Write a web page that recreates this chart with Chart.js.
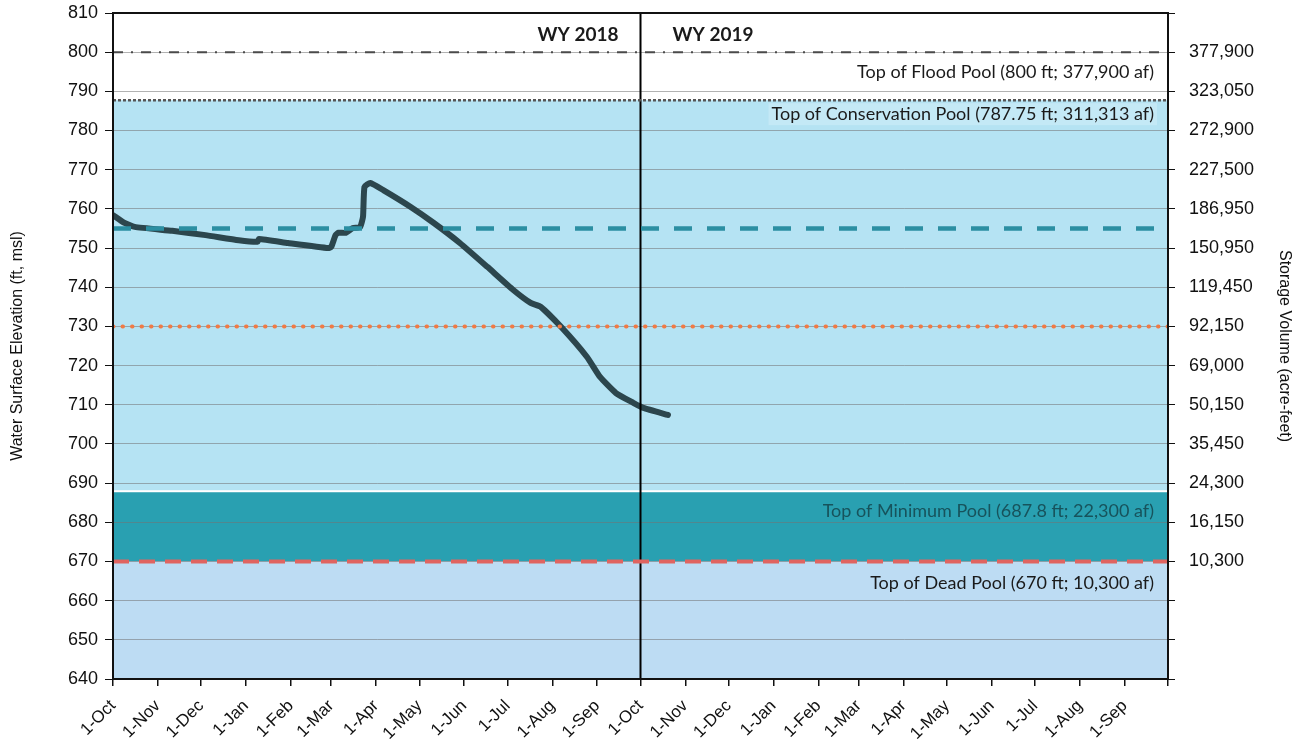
<!DOCTYPE html>
<html>
<head>
<meta charset="utf-8">
<script src="https://cdn.jsdelivr.net/npm/chart.js@4/dist/chart.umd.min.js"></script>
<style>
  html, body { margin: 0; padding: 0; background: #ffffff; }
  #wrap { width: 1302px; height: 746px; }
</style>
</head>
<body>
<div id="wrap"><canvas id="c" width="1302" height="746"></canvas></div>
<script>
// ---------- DATA ----------
const startDate = '2017-10-01';
const endDate = '2019-09-30';
const monthTickDates = ['2017-10-01','2017-11-01','2017-12-01','2018-01-01','2018-02-01','2018-03-01','2018-04-01','2018-05-01','2018-06-01','2018-07-01','2018-08-01','2018-09-01',
  '2018-10-01','2018-11-01','2018-12-01','2019-01-01','2019-02-01','2019-03-01','2019-04-01','2019-05-01','2019-06-01','2019-07-01','2019-08-01','2019-09-01','2019-10-01'];
const monthTickLabels = ['1-Oct','1-Nov','1-Dec','1-Jan','1-Feb','1-Mar','1-Apr','1-May','1-Jun','1-Jul','1-Aug','1-Sep',
  '1-Oct','1-Nov','1-Dec','1-Jan','1-Feb','1-Mar','1-Apr','1-May','1-Jun','1-Jul','1-Aug','1-Sep',''];

const elevDates = ['2017-10-01','2017-10-09','2017-10-16','2017-11-11','2017-12-04','2017-12-27','2018-01-09','2018-01-10','2018-01-30','2018-02-27',
  '2018-03-01','2018-03-04','2018-03-06','2018-03-11','2018-03-16','2018-03-21','2018-03-23','2018-03-24','2018-03-28','2018-04-06',
  '2018-04-25','2018-05-11','2018-05-29','2018-06-17','2018-07-05','2018-07-17','2018-07-24','2018-08-07','2018-08-25','2018-09-03',
  '2018-09-14','2018-09-26','2018-10-03','2018-10-20'];
const elevValues = [758.4,756.4,755.4,754.4,753.3,752.0,751.6,752.3,751.3,750.0,
  750.3,753.3,753.9,753.9,755.1,755.4,758.0,765.6,766.6,764.8,
  760.5,756.4,751.3,745.2,739.3,736.0,735.0,729.9,722.2,717.1,
  713.0,710.5,709.2,707.4];

const elevTickMin = 640, elevTickMax = 810, elevTickStep = 10;
const storageTickElev = [800,790,780,770,760,750,740,730,720,710,700,690,680,670];
const storageTickLabels = ['377,900','323,050','272,900','227,500','186,950','150,950','119,450','92,150','69,000','50,150','35,450','24,300','16,150','10,300'];

const floodPool = 800, conservationPool = 787.75, minimumPool = 687.8, deadPool = 670;
const guideA = 755, guideB = 730;
const waterYearSplit = '2018-10-01';
const poolLabels = ['Top of Flood Pool (800 ft; 377,900 af)','Top of Conservation Pool (787.75 ft; 311,313 af)','Top of Minimum Pool (687.8 ft; 22,300 af)','Top of Dead Pool (670 ft; 10,300 af)'];
const wyLabels = ['WY 2018','WY 2019'];

// ---------- helpers ----------
const DAY = 86400000;
const t0 = Date.parse(startDate + 'T00:00:00Z');
const dayOf = s => Math.round((Date.parse(s + 'T00:00:00Z') - t0) / DAY);
const xMin = 0, xMax = dayOf(endDate) + 1;
const tickDays = monthTickDates.map(dayOf);
const splitDay = dayOf(waterYearSplit);
const seriesPts = elevDates.map((d, i) => ({x: dayOf(d), y: elevValues[i]}));
const hline = v => [{x: xMin, y: v}, {x: xMax, y: v}];
const noPad = s => { s.paddingTop = 0; s.paddingBottom = 0; s.paddingLeft = 0; s.paddingRight = 0; };

// ---------- plugins ----------
const bandsPlugin = {
  id: 'bands',
  beforeDraw(chart) {
    const {ctx, chartArea: a, scales: {y}} = chart;
    const bands = [
      [elevTickMax, conservationPool, '#ffffff'],
      [conservationPool, minimumPool, '#b5e3f3'],
      [minimumPool, deadPool, '#29a0b1'],
      [deadPool, elevTickMin, '#bddcf3']
    ];
    ctx.save();
    bands.forEach(([top, bot, col]) => {
      const y1 = y.getPixelForValue(top), y2 = y.getPixelForValue(bot);
      ctx.fillStyle = col;
      ctx.fillRect(a.left, y1, a.right - a.left, y2 - y1);
    });
    ctx.fillStyle = '#ffffff';
    ctx.fillRect(a.left, y.getPixelForValue(minimumPool) - 1.5, a.right - a.left, 2);
    ctx.restore();
  }
};

const textPlugin = {
  id: 'texts',
  afterDatasetsDraw(chart) {
    const {ctx, chartArea: a, scales: {x, y}} = chart;
    ctx.save();
    ctx.fillStyle = '#1a1a1a';
    ctx.textBaseline = 'middle';
    ctx.font = '18px Lato, "Open Sans", sans-serif';
    ctx.textAlign = 'right';
    const rx = a.right - 14;
    ctx.fillText(poolLabels[0], rx, y.getPixelForValue(floodPool) + 20);
    const cy = y.getPixelForValue(conservationPool) + 14;
    const w = ctx.measureText(poolLabels[1]).width;
    ctx.fillStyle = 'rgba(215,240,250,0.45)';
    ctx.fillRect(rx - w - 3, cy - 11, w + 6, 22);
    ctx.fillStyle = '#1a1a1a';
    ctx.fillText(poolLabels[1], rx, cy);
    ctx.fillStyle = '#17535c';
    ctx.fillText(poolLabels[2], rx, y.getPixelForValue(minimumPool) + 19);
    ctx.fillStyle = '#1a1a1a';
    ctx.fillText(poolLabels[3], rx, y.getPixelForValue(deadPool) + 22);
    ctx.font = 'bold 19px Lato, "Open Sans", sans-serif';
    const sx = x.getPixelForValue(splitDay);
    const wy = y.getPixelForValue(elevTickMax) + 22;
    ctx.textAlign = 'right';
    ctx.fillText(wyLabels[0], sx - 22, wy);
    ctx.textAlign = 'left';
    ctx.fillText(wyLabels[1], sx + 32, wy);
    ctx.restore();
  },
  afterDraw(chart) {
    const {ctx, chartArea: a} = chart;
    ctx.save();
    ctx.strokeStyle = '#111';
    ctx.lineWidth = 2;
    ctx.strokeRect(a.left, a.top, a.right - a.left, a.bottom - a.top);
    ctx.restore();
  }
};

// ---------- chart ----------
const tickFont = {family: '"Liberation Sans", Arial, sans-serif', size: 18};

new Chart(document.getElementById('c'), {
  type: 'line',
  data: {
    datasets: [
      {data: hline(floodPool), borderColor: '#4a4a4a', borderWidth: 2, borderDash: [10, 8, 2, 8], pointRadius: 0, yAxisID: 'y'},
      {data: hline(conservationPool), borderColor: '#555555', borderWidth: 2.5, borderDash: [3, 2], pointRadius: 0, yAxisID: 'y'},
      {data: hline(guideA), borderColor: '#2b8fa2', borderWidth: 4.5, borderDash: [18, 15], pointRadius: 0, yAxisID: 'y'},
      {data: hline(guideB), borderColor: '#f07a45', borderWidth: 4, borderDash: [0.5, 9], borderCapStyle: 'round', pointRadius: 0, yAxisID: 'y'},
      {data: hline(deadPool), borderColor: '#e06460', borderWidth: 4, borderDash: [16, 10], pointRadius: 0, yAxisID: 'y'},
      {data: [{x: splitDay, y: elevTickMin}, {x: splitDay, y: elevTickMax}], borderColor: '#000000', borderWidth: 2, pointRadius: 0, yAxisID: 'y'},
      {data: seriesPts, borderColor: '#2c464d', borderWidth: 6, pointRadius: 0, borderCapStyle: 'round', borderJoinStyle: 'round', tension: 0.15, yAxisID: 'y'}
    ]
  },
  options: {
    responsive: false,
    animation: false,
    events: [],
    layout: {padding: {top: 13, left: 0, right: 0, bottom: 0}},
    plugins: {legend: {display: false}, tooltip: {enabled: false}},
    scales: {
      x: {
        type: 'linear', min: xMin, max: xMax,
        afterBuildTicks: s => { s.ticks = tickDays.map(v => ({value: v})); },
        afterFit: s => { s.height = 67; noPad(s); },
        ticks: {
          autoSkip: false, maxRotation: 45, minRotation: 45, padding: 10,
          color: '#111', font: {family: '"Liberation Sans", Arial, sans-serif', size: 17},
          callback: (v, i) => monthTickLabels[i]
        },
        grid: {drawOnChartArea: false, drawTicks: true, tickLength: 7, color: '#111', lineWidth: 1.5},
        border: {display: true, color: '#111', width: 2}
      },
      y: {
        position: 'left', min: elevTickMin, max: elevTickMax,
        afterFit: s => { s.width = 113; noPad(s); },
        ticks: {stepSize: elevTickStep, color: '#111', font: tickFont, padding: 7},
        grid: {color: 'rgba(115,115,115,0.55)', lineWidth: 1, tickLength: 8, tickColor: '#111'},
        border: {display: true, color: '#111', width: 2},
        title: {display: true, text: 'Water Surface Elevation (ft, msl)', color: '#111', font: {family: '"Liberation Sans", Arial, sans-serif', size: 16}, padding: {top: 8, bottom: 4}}
      },
      y2: {
        position: 'right', min: elevTickMin, max: elevTickMax,
        afterFit: s => { s.width = 134; noPad(s); },
        ticks: {
          stepSize: elevTickStep, color: '#111', font: tickFont, padding: 14,
          callback: v => { const i = storageTickElev.indexOf(v); return i >= 0 ? storageTickLabels[i] : ''; }
        },
        grid: {drawOnChartArea: false, tickLength: 7, color: '#111'},
        border: {display: true, color: '#111', width: 2},
        title: {display: true, text: 'Storage Volume (acre-feet)', color: '#111', font: {family: '"Liberation Sans", Arial, sans-serif', size: 16}, padding: {top: 8, bottom: 4}}
      }
    }
  },
  plugins: [bandsPlugin, textPlugin]
});
</script>
</body>
</html>
